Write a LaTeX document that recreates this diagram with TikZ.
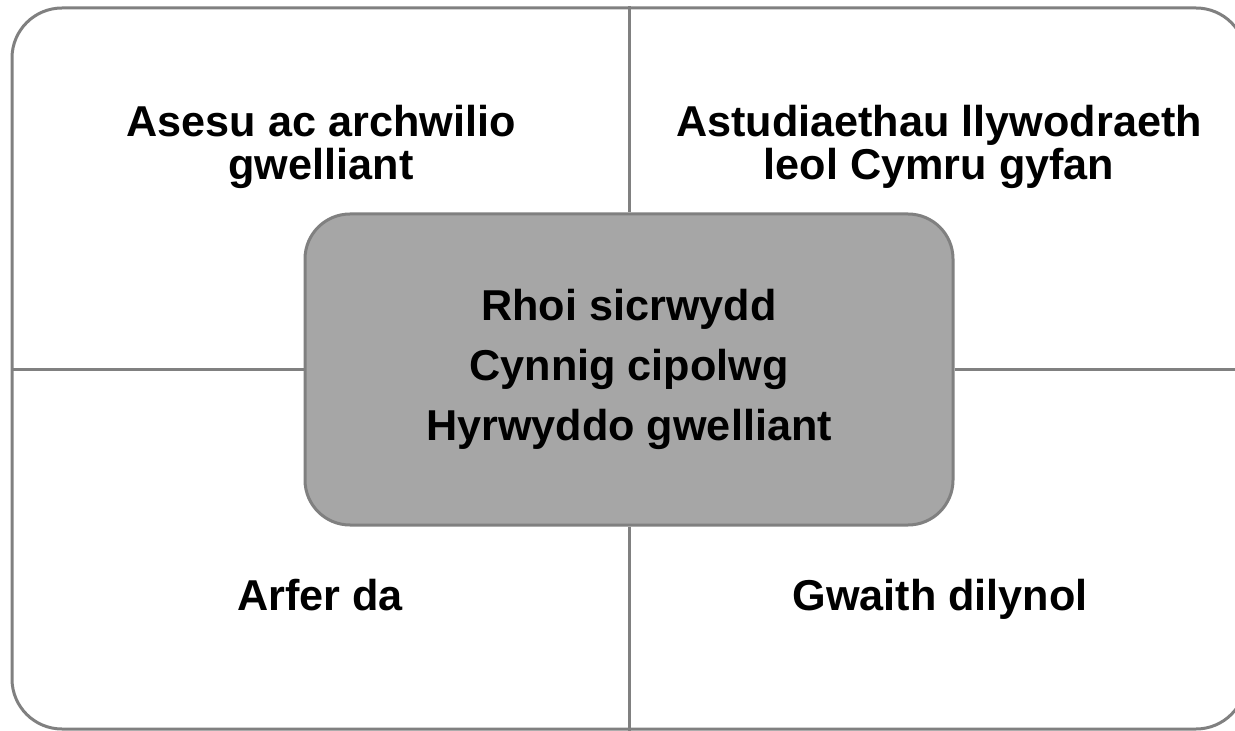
\documentclass[tikz,border=0pt]{standalone}
\usepackage{fontspec}
\setmainfont{Liberation Sans}
\usetikzlibrary{positioning}

\begin{document}
\begin{tikzpicture}[x=0.5pt, y=-0.5pt, outerframe/.style={rounded corners=25pt, draw=black!50, line width=1.5pt, minimum width=617pt, minimum height=360.5pt, inner sep=0pt}, core/.style={rounded corners=22.5pt, draw=black!50, fill=black!35, line width=1.5pt, minimum width=324pt, minimum height=155.5pt, inner sep=0pt, align=center, font=\bfseries\fontsize{21.6}{30}\selectfont}, quadtext/.style={align=center, inner sep=0pt, font=\bfseries\fontsize{21.6}{21.8}\selectfont}, divider/.style={draw=black!50, line width=1.5pt}]
    \useasboundingbox (0,0) rectangle (1235,731);

    %Nodes
    \node[outerframe](frame) at (629,368.5) {};
    \node[core](core) at (629,369.5) {Rhoi sicrwydd\\Cynnig cipolwg\\Hyrwyddo gwelliant};
    \node[quadtext](assess) at (321,147) {Asesu ac archwilio\\gwelliant};
    \node[quadtext](studies) at (939,147) {Astudiaethau llywodraeth\\leol Cymru gyfan};
    \node[quadtext, anchor=base](practice) at (320,610) {Arfer da};
    \node[quadtext, anchor=base](followup) at (940,610) {Gwaith dilynol};

    %Lines
    \draw[divider] (core.north) -- (core.north |- frame.north);
    \draw[divider] (core.south) -- (core.south |- frame.south);
    \draw[divider] (core.west) -- (core.west -| frame.west);
    \draw[divider] (core.east) -- (core.east -| frame.east);

\end{tikzpicture}
\end{document}
